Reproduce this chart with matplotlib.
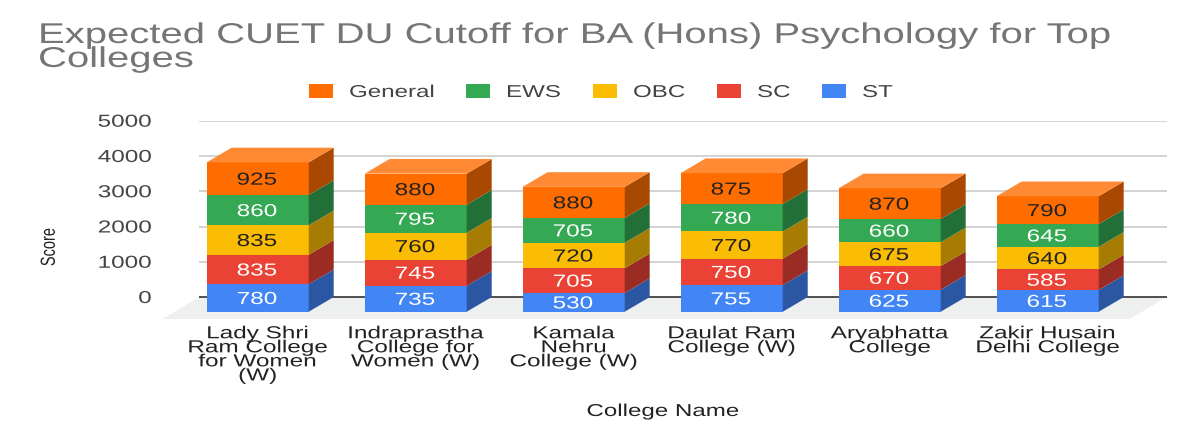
"""Expected CUET DU cutoffs as a stacked column chart with a faux-3D extrusion."""
import matplotlib
matplotlib.use("Agg")
import matplotlib.pyplot as plt
from matplotlib.patheffects import AbstractPathEffect
from matplotlib.patches import Rectangle
from matplotlib.transforms import Affine2D

plt.rcParams["font.family"] = ["Liberation Sans", "DejaVu Sans"]

colleges = ["Lady Shri\nRam College\nfor Women\n(W)", "Indraprastha\nCollege for\nWomen (W)",
            "Kamala\nNehru\nCollege (W)", "Daulat Ram\nCollege (W)", "Aryabhatta\nCollege",
            "Zakir Husain\nDelhi College"]
categories = ["ST", "SC", "OBC", "EWS", "General"]
st = [780, 735, 530, 755, 625, 615]
sc = [835, 745, 705, 750, 670, 585]
obc = [835, 760, 720, 770, 675, 640]
ews = [860, 795, 705, 780, 660, 645]
general = [925, 880, 880, 875, 870, 790]
series = [st, sc, obc, ews, general]
y_ticks = [0, 1000, 2000, 3000, 4000, 5000]

FRONT = ["#4285f4", "#ea4335", "#fbbc04", "#34a853", "#ff6d01"]
SIDE = ["#2a56a2", "#9b2c24", "#a67c03", "#236f38", "#a84801"]
TOP = "#ff8a33"
INK = ["white", "white", "#222222", "white", "#222222"]
W, H = 1200, 440
BAR_W = 0.646
DEPTH_X = 0.158   # extrusion, category units
DEPTH_Y = 416     # extrusion, score units
STRETCH = 1.4


class WideText(AbstractPathEffect):
    """Widen glyphs horizontally about the text's anchor point."""

    def __init__(self, text, sx=STRETCH):
        super().__init__()
        self.text = text
        self.sx = sx

    def draw_path(self, renderer, gc, tpath, affine, rgbFace=None):
        x0 = self.text.get_transform().transform(self.text.get_position())[0]
        wide = affine + Affine2D().translate(-x0, 0).scale(self.sx, 1).translate(x0, 0)
        renderer.draw_path(gc, tpath, wide, rgbFace)


def widen(text):
    text.set_path_effects([WideText(text)])
    return text


fig = plt.figure(figsize=(W / 100, H / 100), dpi=100)
ax = fig.add_axes([160 / W, 1 - 320 / H, (1167 - 160) / W, (320 - 120.7) / H])
ax.set_xlim((160 - 257.7) / 158, (1167 - 257.7) / 158)
ax.set_ylim(-651, 5000)
for s in ax.spines.values():
    s.set_visible(False)

# floor and back wall
x_back = (-0.372, 5.755)
ax.fill([x_back[0], x_back[1], 5.52, -0.6], [0, 0, -623, -623], color="#eef0f0", lw=0, zorder=1)
ax.hlines(y_ticks[1:], *x_back, color="#cccccc", lw=1.2, zorder=1)
ax.hlines(0, *x_back, color="#333333", lw=1.2, zorder=2)

# stacked columns, front faces come from ax.bar and the extrusion is filled in behind them
for i in range(len(colleges)):
    base = 0
    for k, vals in enumerate(series):
        v = vals[i]
        x1 = i + BAR_W / 2
        y0 = base - DEPTH_Y
        ax.bar(i, v, BAR_W, bottom=y0, color=FRONT[k], lw=0, zorder=3)
        ax.fill([x1, x1 + DEPTH_X, x1 + DEPTH_X, x1],
                [y0, y0 + DEPTH_Y, y0 + v + DEPTH_Y, y0 + v], color=SIDE[k], lw=0, zorder=3)
        widen(ax.text(i - 0.005, y0 + v / 2, str(v), color=INK[k], fontsize=12.5,
                      ha="center", va="center_baseline", zorder=4))
        base += v
    top = base - DEPTH_Y
    x0, x1 = i - BAR_W / 2, i + BAR_W / 2
    ax.fill([x0, x1, x1 + DEPTH_X, x0 + DEPTH_X], [top, top, top + DEPTH_Y, top + DEPTH_Y],
            color=TOP, lw=0, zorder=3)

ax.set_yticks(y_ticks)
ax.set_xticks(range(len(colleges)), colleges)
ax.tick_params(axis="y", length=0, pad=6, labelsize=12.5, labelcolor="#444444")
ax.tick_params(axis="x", length=0, pad=4.5, labelsize=12.5, labelcolor="#222222")
for t in ax.get_yticklabels():
    widen(t)
for t in ax.get_xticklabels():
    t.set_linespacing(0.92)
    widen(t)

ax.set_xlabel("College Name", fontsize=12.4, color="#222222")
ax.xaxis.set_label_coords((663 - 160) / (1167 - 160), (320 - 404) / (320 - 120.7))
widen(ax.xaxis.label)
ax.set_ylabel("Score", fontsize=10.5, color="#222222")
ax.yaxis.set_label_coords((59 - 160) / (1167 - 160), (320 - 247) / (320 - 120.7))
widen(ax.yaxis.label)

widen(fig.text(38 / W, 1 - 21 / H, "Expected CUET DU Cutoff for BA (Hons) Psychology for Top\nColleges",
               color="#757575", fontsize=20.6, va="top", linespacing=0.815))

# legend, listed from the top of the stack down
swatch_x = [309, 466, 593, 717, 822]
for cat, col, sx in zip(categories[::-1], FRONT[::-1], swatch_x):
    fig.add_artist(Rectangle((sx / W, 1 - 98 / H), 24 / W, 14 / H, transform=fig.transFigure,
                             color=col, lw=0))
    widen(fig.text((sx + 40) / W, 1 - 91 / H, cat, color="#444444", fontsize=12.4,
                   va="center_baseline"))

fig.savefig("out.png", dpi=100, facecolor="white")
